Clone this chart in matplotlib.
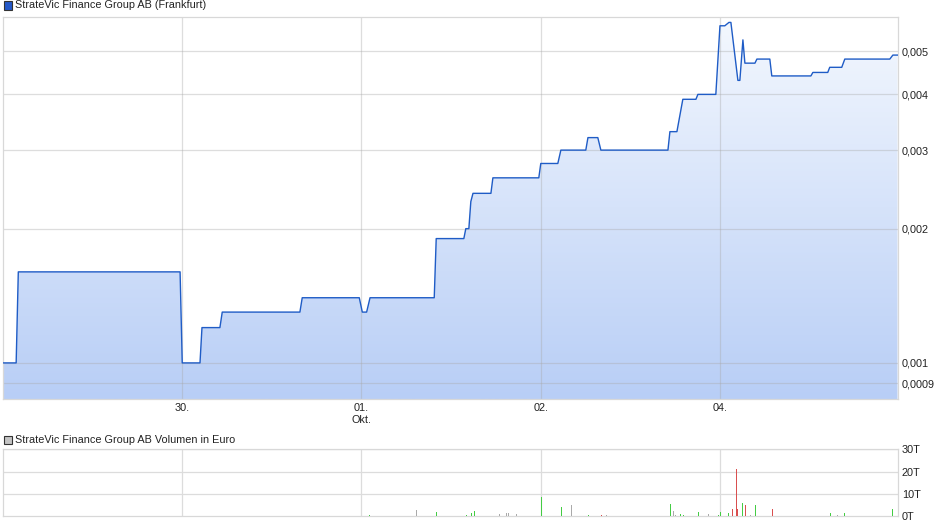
import numpy as np
import matplotlib
matplotlib.use("Agg")
import matplotlib.pyplot as plt
from matplotlib.patches import Rectangle
from matplotlib.ticker import NullLocator, FixedLocator, FixedFormatter

plt.rcParams['font.family'] = ['Liberation Sans', 'DejaVu Sans']

# ---------------- data ----------------
title_price = "StrateVic Finance Group AB (Frankfurt)"
title_volume = "StrateVic Finance Group AB Volumen in Euro"

# time in trading days from start of chart
price_t = [0.0, 0.075, 0.087, 0.989, 1.001, 1.100, 1.111, 1.211, 1.224, 1.657, 1.670,
           1.988, 2.005, 2.029, 2.048, 2.406, 2.417, 2.571, 2.582, 2.599, 2.610, 2.622,
           2.722, 2.733, 2.989, 3.000, 3.095, 3.112, 3.251, 3.263, 3.318, 3.335, 3.709,
           3.720, 3.759, 3.792, 3.865, 3.876, 3.976, 3.999, 4.026, 4.049, 4.060, 4.099,
           4.110, 4.127, 4.138, 4.194, 4.205, 4.277, 4.288, 4.506, 4.517, 4.600, 4.611,
           4.678, 4.695, 4.946, 4.963, 4.989]
price_v = [0.0010, 0.0010, 0.0016, 0.0016, 0.0010, 0.0010, 0.0012, 0.0012, 0.0013, 0.0013, 0.0014,
           0.0014, 0.0013, 0.0013, 0.0014, 0.0014, 0.0019, 0.0019, 0.0020, 0.0020, 0.0023, 0.0024,
           0.0024, 0.0026, 0.0026, 0.0028, 0.0028, 0.0030, 0.0030, 0.0032, 0.0032, 0.0030, 0.0030,
           0.0033, 0.0033, 0.0039, 0.0039, 0.0040, 0.0040, 0.0057, 0.0057, 0.0058, 0.0058, 0.0043,
           0.0043, 0.0053, 0.0047, 0.0047, 0.0048, 0.0048, 0.0044, 0.0044, 0.00448, 0.00448, 0.0046,
           0.0046, 0.0048, 0.0048, 0.0049, 0.0049]

vol_t = [0.085, 0.319, 1.222, 1.668, 2.043, 2.305, 2.417, 2.584, 2.612, 2.629, 2.739, 2.768,
         2.807, 2.818, 2.863, 3.002, 3.114, 3.169, 3.264, 3.337, 3.365, 3.721, 3.738, 3.749,
         3.777, 3.794, 3.850, 3.877, 3.933, 3.944, 3.989, 4.000, 4.045, 4.067, 4.086, 4.095,
         4.123, 4.140, 4.167, 4.178, 4.195, 4.290, 4.513, 4.613, 4.651, 4.691, 4.959]
vol_v = [0.3, 0.2, 0.3, 0.3, 0.6, 2.8, 1.9, 0.6, 1.5, 2.4, 0.3, 1.0,
         1.5, 1.5, 1.0, 8.7, 4.2, 5.1, 0.6, 0.6, 0.6, 5.5, 2.4, 0.6,
         1.0, 0.6, 0.2, 1.9, 1.0, 0.3, 0.6, 1.9, 1.5, 3.3, 21.2, 3.3,
         6.0, 5.1, 0.6, 0.3, 5.1, 3.3, 0.3, 1.5, 0.6, 1.5, 3.3]
vol_dir = ['g', 'n', 'g', 'g', 'g', 'n', 'g', 'g', 'g', 'g', 'g', 'n',
           'n', 'n', 'n', 'g', 'g', 'n', 'g', 'r', 'n', 'g', 'n', 'n',
           'g', 'g', 'n', 'g', 'n', 'n', 'g', 'g', 'g', 'r', 'r', 'r',
           'g', 'r', 'n', 'n', 'g', 'r', 'g', 'g', 'n', 'g', 'g']

x_ticks = [1, 2, 3, 4]
x_labels = ['30.', '01.\nOkt.', '02.', '04.']
price_ticks = [0.0009, 0.001, 0.002, 0.003, 0.004, 0.005]
price_labels = ['0,0009', '0,001', '0,002', '0,003', '0,004', '0,005']
vol_ticks = [0, 10, 20, 30]
vol_labels = ['0T', '10T', '20T', '30T']

# ---------------- figure ----------------
W, H = 940, 526
fig = plt.figure(figsize=(W / 100, H / 100), dpi=100)

def frac(x0, y0, x1, y1):
    return [x0 / W, 1 - y1 / H, (x1 - x0) / W, (y1 - y0) / H]

grid_kw = dict(color='#a8a8a8', alpha=0.38, lw=0.9)
spine_col = '#d8d8d8'
XMIN, XMAX = 0.0, 4.99
YMIN, YMAX = 0.00083, 0.00598

ax = fig.add_axes(frac(2.7, 16.5, 897.7, 399))
ax.set_yscale('log')
ax.set_xlim(XMIN, XMAX)
ax.set_ylim(YMIN, YMAX)

# gradient fill under line
poly = ax.fill_between(price_t, price_v, YMIN * 0.9, facecolor='none', edgecolor='none')
top = np.array([244, 248, 254]) / 255
bot = np.array([184, 206, 246]) / 255
fr = np.linspace(0, 1, 256)[:, None]
grad = (top[None, :] * (1 - fr) + bot[None, :] * fr)[:, None, :]
im = ax.imshow(grad, extent=[0, 1, 0, 1], transform=ax.transAxes, aspect='auto',
               interpolation='bilinear', zorder=1)
im.set_clip_path(poly.get_paths()[0], ax.transData)
ax.set_xlim(XMIN, XMAX)
ax.set_ylim(YMIN, YMAX)

ax.plot(price_t, price_v, color='#1f5cc6', lw=1.0, zorder=3)

for v in price_ticks:
    ax.axhline(v, zorder=2, **grid_kw)
for v in x_ticks:
    ax.axvline(v, zorder=2, **grid_kw)

ax.yaxis.set_major_locator(FixedLocator(price_ticks))
ax.yaxis.set_major_formatter(FixedFormatter(price_labels))
ax.yaxis.set_minor_locator(NullLocator())
ax.yaxis.tick_right()
ax.set_xticks(x_ticks)
ax.set_xticklabels(x_labels)
ax.tick_params(axis='both', length=0, labelsize=7.8, colors='#222222')
ax.tick_params(axis='y', pad=3)
ax.tick_params(axis='x', pad=3)
for s in ax.spines.values():
    s.set_color(spine_col)
    s.set_linewidth(0.9)

# volume
axv = fig.add_axes(frac(2.7, 449.3, 897.7, 516.3))
col_map = {'g': '#44cc44', 'r': '#d94f4f', 'n': '#aaaaaa'}
axv.vlines(vol_t, 0, vol_v, colors=[col_map[c] for c in vol_dir], zorder=3,
           linewidth=0.72, antialiased=False)
axv.set_xlim(XMIN, XMAX)
axv.set_ylim(0, 30)
for v in vol_ticks[1:]:
    axv.axhline(v, zorder=1, color='#dcdcdc', lw=0.9)
for v in x_ticks:
    axv.axvline(v, zorder=1, color='#dcdcdc', lw=0.9)
axv.set_yticks(vol_ticks)
axv.set_yticklabels(vol_labels)
axv.yaxis.tick_right()
axv.set_xticks([])
axv.tick_params(axis='y', length=0, labelsize=7.8, pad=3, colors='#222222')
for s in axv.spines.values():
    s.set_color(spine_col)
    s.set_linewidth(0.9)

# legends
def legend_box(y0, fc):
    x0, x1 = 3.5, 11.5
    fig.add_artist(Rectangle((x0 / W, 1 - (y0 + 8) / H), (x1 - x0) / W, 8 / H,
                             transform=fig.transFigure, facecolor=fc,
                             edgecolor='#333333', lw=0.8))

legend_box(1.5, '#2458c8')
fig.text(15 / W, 1 - 5.5 / H, title_price, fontsize=7.8, va='center', ha='left', color='#222222')
legend_box(436, '#c4c4c4')
fig.text(15 / W, 1 - 440 / H, title_volume, fontsize=7.8, va='center', ha='left', color='#222222')

fig.savefig('out.png', dpi=100)
